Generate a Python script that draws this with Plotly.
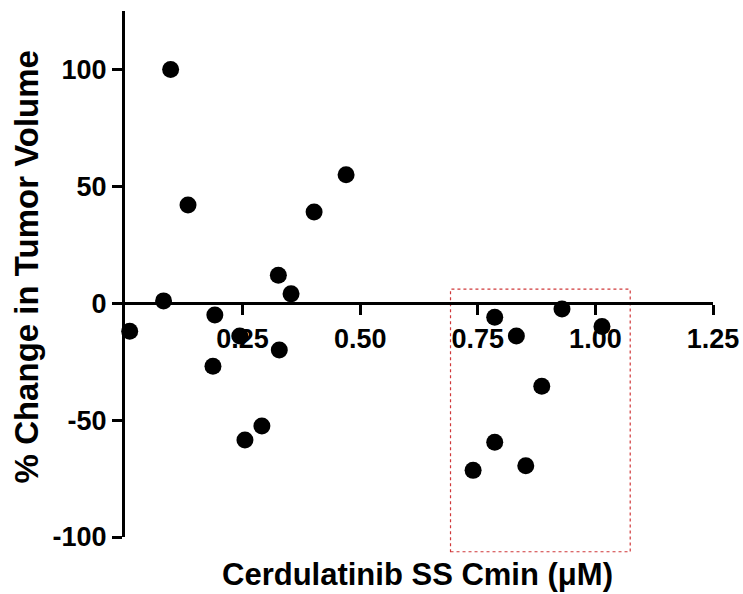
import plotly.graph_objects as go

cmin_uM = [0.010, 0.082, 0.097, 0.134, 0.191, 0.187, 0.244, 0.255, 0.291, 0.326, 0.328,
           0.353, 0.402, 0.470, 0.740, 0.786, 0.786, 0.832, 0.852, 0.886, 0.929, 1.014]
pct_change = [-12, 1, 100, 42, -5, -27, -14, -58.5, -52.5, 12, -20,
              4, 39, 55, -71.5, -6, -59.5, -14, -69.5, -35.5, -2.5, -10]

x_ticks = [0.25, 0.50, 0.75, 1.00, 1.25]
x_tick_labels = ["0.25", "0.50", "0.75", "1.00", "1.25"]
y_ticks = [-100, -50, 0, 50, 100]
y_tick_labels = ["-100", "-50", "0", "50", "100"]

box_x = [0.692, 1.074]
box_y = [-106.3, 6.0]

x_title = "Cerdulatinib SS Cmin (μM)"
y_title = "% Change in Tumor Volume"

FONT = "Liberation Sans, Arial, sans-serif"
x_range = [0, 1.25]
y_range = [-100, 125]


def y_frac(v):
    return (v - y_range[0]) / (y_range[1] - y_range[0])


fig = go.Figure()
fig.add_trace(go.Scatter(
    x=cmin_uM, y=pct_change, mode="markers",
    marker=dict(color="black", size=17, line=dict(width=0)),
    cliponaxis=False, showlegend=False,
))

fig.add_shape(type="rect", xref="x", yref="y domain",
              x0=box_x[0], x1=box_x[1], y0=y_frac(box_y[0]), y1=y_frac(box_y[1]),
              line=dict(color="#d0383a", width=1.2, dash="dot"),
              fillcolor="rgba(0,0,0,0)", layer="below")

fig.add_annotation(text="<b>" + x_title + "</b>", xref="paper", yref="paper",
                   x=0.498, y=-0.072, xanchor="center", yanchor="middle", showarrow=False,
                   font=dict(family=FONT, size=31, color="black"))
fig.add_annotation(text="<b>" + y_title + "</b>", xref="paper", yref="paper",
                   x=-0.168, y=0.513, xanchor="center", yanchor="middle",
                   showarrow=False, textangle=-90,
                   font=dict(family=FONT, size=33, color="black"))

tickfont = dict(family=FONT, size=27, weight="bold", color="black")
fig.update_layout(
    width=743, height=594,
    margin=dict(l=125, r=30, t=11, b=57),
    paper_bgcolor="white", plot_bgcolor="white",
    font=dict(family=FONT, color="black"),
    xaxis=dict(
        range=x_range, showgrid=False, zeroline=False, automargin=False,
        showline=True, linecolor="black", linewidth=3,
        ticks="outside", ticklen=10, tickwidth=3, tickcolor="black",
        tickvals=x_ticks, ticktext=x_tick_labels, tickfont=tickfont,
        anchor="free", position=y_frac(0),
    ),
    yaxis=dict(
        range=y_range, showgrid=False, zeroline=False, automargin=False,
        showline=True, linecolor="black", linewidth=3,
        ticks="outside", ticklen=10, tickwidth=3, tickcolor="black",
        tickvals=y_ticks, ticktext=y_tick_labels, tickfont=tickfont,
    ),
)

fig.write_html("out.html", config={"displayModeBar": False},
               post_script="document.body.style.margin='0';")
